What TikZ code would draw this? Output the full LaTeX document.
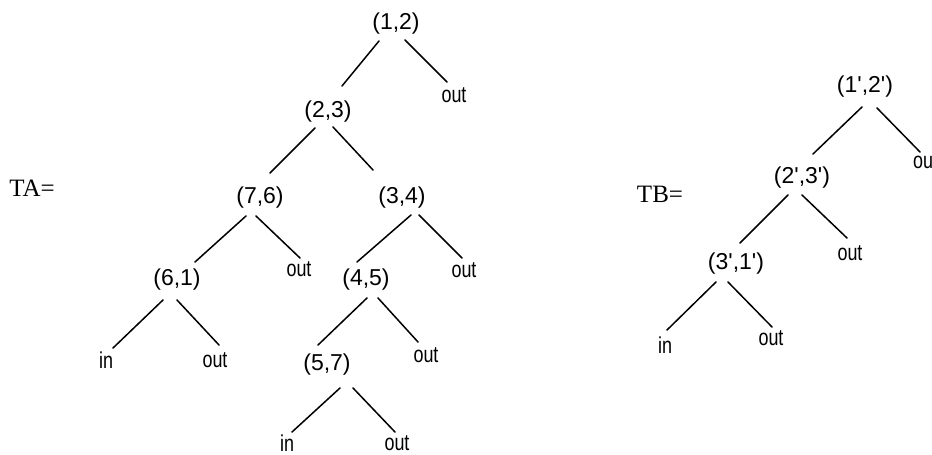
\documentclass[tikz,border=0pt]{standalone}
\usepackage{fontspec}
\usepackage{tikz}
\setmainfont{Liberation Serif}
\newfontfamily\pairfont{Liberation Sans}
\newfontfamily\leaffont[FakeStretch=0.78]{Liberation Sans}
\newcommand{\pr}{\textquotesingle}
\tikzset{
    pair/.style={inner sep=0pt, font=\pairfont\fontsize{23}{23}\selectfont},
    leaf/.style={inner sep=0pt, font=\leaffont\fontsize{23}{23}\selectfont},
    treename/.style={inner sep=0pt, font=\fontsize{25}{25}\selectfont},
    branch/.style={line width=1.5pt, line cap=round},
}
\begin{document}
\begin{tikzpicture}[x=1pt, y=-1pt]
        \path[fill=white, use as bounding box] (0,0) rectangle (932,455);

        % tree TA
        \node[treename] (ta) at (32,188) {TA=};
        \node[pair] (n12) at (396,24) {(1,2)};
        \node[leaf] (oa1) at (454,95) {out};
        \node[pair] (n23) at (328,112) {(2,3)};
        \node[pair] (n76) at (260,198) {(7,6)};
        \node[pair] (n34) at (402,198) {(3,4)};
        \node[leaf] (oa2) at (299,269) {out};
        \node[pair] (n61) at (177,280) {(6,1)};
        \node[pair] (n45) at (366,280) {(4,5)};
        \node[leaf] (oa3) at (464,270) {out};
        \node[leaf] (ia1) at (106,360) {in};
        \node[leaf] (oa4) at (215,360) {out};
        \node[pair] (n57) at (327,365) {(5,7)};
        \node[leaf] (oa5) at (426,355) {out};
        \node[leaf] (ia2) at (287,443) {in};
        \node[leaf] (oa6) at (397,443) {out};

        \draw[branch] ([shift={(-17,17)}]n12.center) -- ([shift={(14,-26)}]n23.center);
        \draw[branch] ([shift={(9,16)}]n12.center) -- ([shift={(-7,-13)}]oa1.center);
        \draw[branch] ([shift={(-13,16)}]n23.center) -- ([shift={(10,-25)}]n76.center);
        \draw[branch] ([shift={(5,15)}]n23.center) -- ([shift={(-29,-28)}]n34.center);
        \draw[branch] ([shift={(-14,18)}]n76.center) -- ([shift={(18,-18)}]n61.center);
        \draw[branch] ([shift={(-4,18)}]n76.center) -- ([shift={(1,-11)}]oa2.center);
        \draw[branch] ([shift={(9,17)}]n34.center) -- ([shift={(-9,-18)}]n45.center);
        \draw[branch] ([shift={(17,17)}]n34.center) -- ([shift={(-2,-12)}]oa3.center);
        \draw[branch] ([shift={(-14,20)}]n61.center) -- ([shift={(7,-12)}]ia1.center);
        \draw[branch] ([shift={(0,20)}]n61.center) -- ([shift={(4,-15)}]oa4.center);
        \draw[branch] ([shift={(1,18)}]n45.center) -- ([shift={(-9,-20)}]n57.center);
        \draw[branch] ([shift={(12,18)}]n45.center) -- ([shift={(-8,-13)}]oa5.center);
        \draw[branch] ([shift={(13,23)}]n57.center) -- ([shift={(5,-11)}]ia2.center);
        \draw[branch] ([shift={(26,23)}]n57.center) -- ([shift={(-2,-11)}]oa6.center);

        % tree TB
        \node[treename] (tb) at (660,194) {TB=};
        \node[pair] (m12) at (865,87) {(1\pr,2\pr)};
        \node[leaf, anchor=west] (ob1) at (913,162) {ou};
        \node[pair] (m23) at (802,178) {(2\pr,3\pr)};
        \node[leaf] (ob2) at (850,253) {out};
        \node[pair] (m31) at (736,264) {(3\pr,1\pr)};
        \node[leaf] (ib) at (665,345) {in};
        \node[leaf] (ob3) at (771,338) {out};

        \draw[branch] ([shift={(-3,20)}]m12.center) -- ([shift={(11,-24)}]m23.center);
        \draw[branch] ([shift={(12,21)}]m12.center) -- ([shift={(7,-10)}]ob1.west);
        \draw[branch] ([shift={(-14,17)}]m23.center) -- ([shift={(4,-21)}]m31.center);
        \draw[branch] ([shift={(0,17)}]m23.center) -- ([shift={(-3,-15)}]ob2.center);
        \draw[branch] ([shift={(-20,18)}]m31.center) -- ([shift={(2,-15)}]ib.center);
        \draw[branch] ([shift={(-8,18)}]m31.center) -- ([shift={(1,-11)}]ob3.center);
\end{tikzpicture}
\end{document}
